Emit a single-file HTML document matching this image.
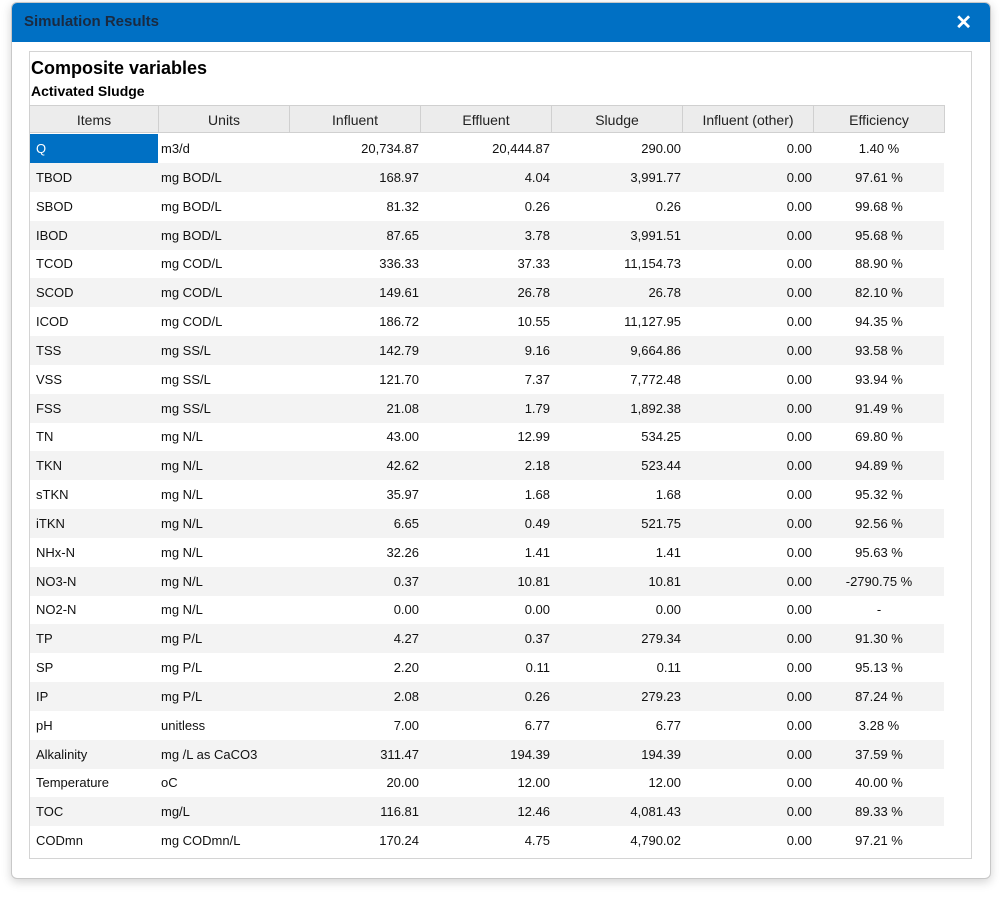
<!DOCTYPE html>
<html><head><style>
body{margin:0;width:1000px;height:897px;background:#fff;font-family:"Liberation Sans",sans-serif;position:relative;overflow:hidden}
.win{position:absolute;left:11px;top:2px;width:978px;height:875px;border:1px solid #c8c8c8;border-radius:6px;box-shadow:0 3px 10px rgba(0,0,0,0.18);background:#fff;overflow:hidden}
.tb{position:absolute;left:0;top:0;width:978px;height:39px;background:#0070c4;color:#fff}
.tb .t{position:absolute;left:12px;top:10px;font-size:15px;font-weight:bold;color:#1a2a40}
.tb .x{position:absolute;right:18px;top:7px;font-size:20px;font-weight:bold;color:#fff}
.pan{position:absolute;left:29px;top:51px;width:941px;height:806px;border:1px solid #d4d4d4}
.h1{position:absolute;left:31px;top:58px;font-size:18px;font-weight:bold;color:#000}
.h2{position:absolute;left:31px;top:83px;font-size:14px;font-weight:bold;color:#000}
.hd{position:absolute;top:105px;height:28px;background:#ececec;border:1px solid #d0d0d0;border-left:none;font-size:14px;color:#222;text-align:center;line-height:28px;box-sizing:border-box}
.row{position:absolute;left:30px;width:914px;height:29px;font-size:13px;color:#111}
.row.s{background:#f3f3f3}
.row div{position:absolute;top:0;line-height:29px;white-space:nowrap}
</style></head><body>
<div class="win"><div class="tb"><span class="t">Simulation Results</span><span class="x">✕</span></div></div>
<div class="pan"></div>
<div class="h1">Composite variables</div>
<div class="h2">Activated Sludge</div>
<div class="hd" style="left:29px;width:130px;border-left:1px solid #d0d0d0">Items</div>
<div class="hd" style="left:159px;width:131px">Units</div>
<div class="hd" style="left:290px;width:131px">Influent</div>
<div class="hd" style="left:421px;width:131px">Effluent</div>
<div class="hd" style="left:552px;width:131px">Sludge</div>
<div class="hd" style="left:683px;width:131px">Influent (other)</div>
<div class="hd" style="left:814px;width:131px">Efficiency</div>
<div id="rows"></div>
<script>
var d=[["Q","m3/d","20,734.87","20,444.87","290.00","1.40 %"],["TBOD","mg BOD/L","168.97","4.04","3,991.77","97.61 %"],["SBOD","mg BOD/L","81.32","0.26","0.26","99.68 %"],["IBOD","mg BOD/L","87.65","3.78","3,991.51","95.68 %"],["TCOD","mg COD/L","336.33","37.33","11,154.73","88.90 %"],["SCOD","mg COD/L","149.61","26.78","26.78","82.10 %"],["ICOD","mg COD/L","186.72","10.55","11,127.95","94.35 %"],["TSS","mg SS/L","142.79","9.16","9,664.86","93.58 %"],["VSS","mg SS/L","121.70","7.37","7,772.48","93.94 %"],["FSS","mg SS/L","21.08","1.79","1,892.38","91.49 %"],["TN","mg N/L","43.00","12.99","534.25","69.80 %"],["TKN","mg N/L","42.62","2.18","523.44","94.89 %"],["sTKN","mg N/L","35.97","1.68","1.68","95.32 %"],["iTKN","mg N/L","6.65","0.49","521.75","92.56 %"],["NHx-N","mg N/L","32.26","1.41","1.41","95.63 %"],["NO3-N","mg N/L","0.37","10.81","10.81","-2790.75 %"],["NO2-N","mg N/L","0.00","0.00","0.00","-"],["TP","mg P/L","4.27","0.37","279.34","91.30 %"],["SP","mg P/L","2.20","0.11","0.11","95.13 %"],["IP","mg P/L","2.08","0.26","279.23","87.24 %"],["pH","unitless","7.00","6.77","6.77","3.28 %"],["Alkalinity","mg /L as CaCO3","311.47","194.39","194.39","37.59 %"],["Temperature","oC","20.00","12.00","12.00","40.00 %"],["TOC","mg/L","116.81","12.46","4,081.43","89.33 %"],["CODmn","mg CODmn/L","170.24","4.75","4,790.02","97.21 %"]];
var h="";
d.forEach(function(r,i){var y=134+i*28.84;
var first=i==0?'<div style="left:0;width:128px;height:29px;background:#0070c4;color:#fff;padding-left:6px;box-sizing:border-box">'+r[0]+'</div>':'<div style="left:6px">'+r[0]+'</div>';
h+='<div class="row'+(i%2?' s':'')+'" style="top:'+y+'px">'+first+'<div style="left:131px">'+r[1]+'</div><div style="right:525px">'+r[2]+'</div><div style="right:394px">'+r[3]+'</div><div style="right:263px">'+r[4]+'</div><div style="right:132px">0.00</div><div style="left:784px;width:130px;text-align:center">'+r[5]+'</div></div>';});
document.getElementById("rows").innerHTML=h;
</script>
</body></html>
